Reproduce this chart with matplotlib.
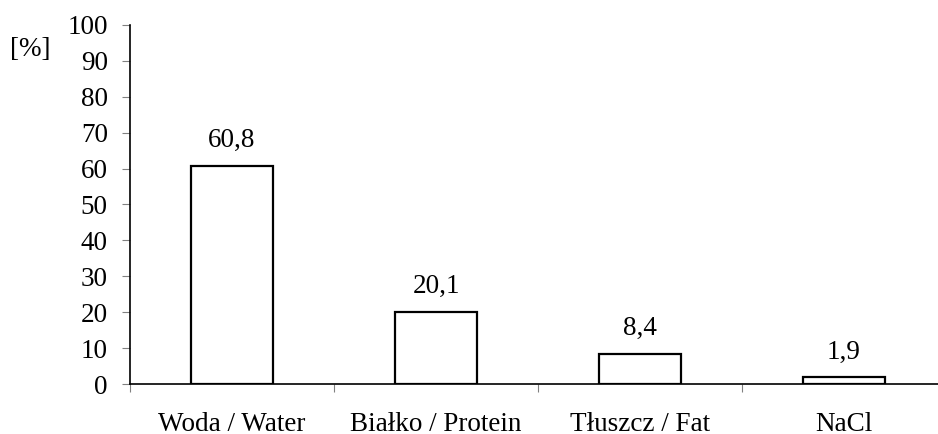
import matplotlib.pyplot as plt
import numpy as np

plt.rcParams['font.family'] = ['Liberation Serif', 'DejaVu Serif']

categories = ["Woda / Water", "Białko / Protein", "Tłuszcz / Fat", "NaCl"]
values = [60.8, 20.1, 8.4, 1.9]
labels = ["60,8", "20,1", "8,4", "1,9"]
yticks = [0, 10, 20, 30, 40, 50, 60, 70, 80, 90, 100]

W, H = 938, 434
fs = 19.5
fig = plt.figure(figsize=(W / 100, H / 100), dpi=100)
ax = fig.add_axes([130 / W, 50 / H, 816 / W, 359 / H])

x = np.arange(len(categories))
ax.bar(x, values, width=0.4, color='white', edgecolor='black', linewidth=1.6)

for xi, v, lab in zip(x, values, labels):
    ax.annotate(lab, (xi, v), xytext=(0, 9), textcoords='offset points',
                ha='center', va='bottom', fontsize=fs)

ax.set_xlim(-0.5, len(categories) - 0.5)
ax.set_ylim(0, 100)
ax.set_yticks(yticks)
ax.set_yticklabels([str(t) for t in yticks], fontsize=fs)
ax.set_xticks(np.arange(len(categories) + 1) - 0.5)
ax.set_xticklabels([])
ax.set_xticks(x, minor=True)
ax.set_xticklabels(categories, minor=True, fontsize=fs)
ax.tick_params(axis='x', which='minor', length=0, pad=20)
ax.tick_params(axis='x', which='major', length=6, color='#808080', direction='out')
ax.tick_params(axis='y', length=6, color='#808080', direction='out', pad=10)

for s in ['top', 'right']:
    ax.spines[s].set_visible(False)
for s in ['left', 'bottom']:
    ax.spines[s].set_linewidth(1.2)

fig.text(10 / W, 1 - 49 / H, "[%]", fontsize=fs, va='center', ha='left')

fig.savefig('out.png', dpi=100)
